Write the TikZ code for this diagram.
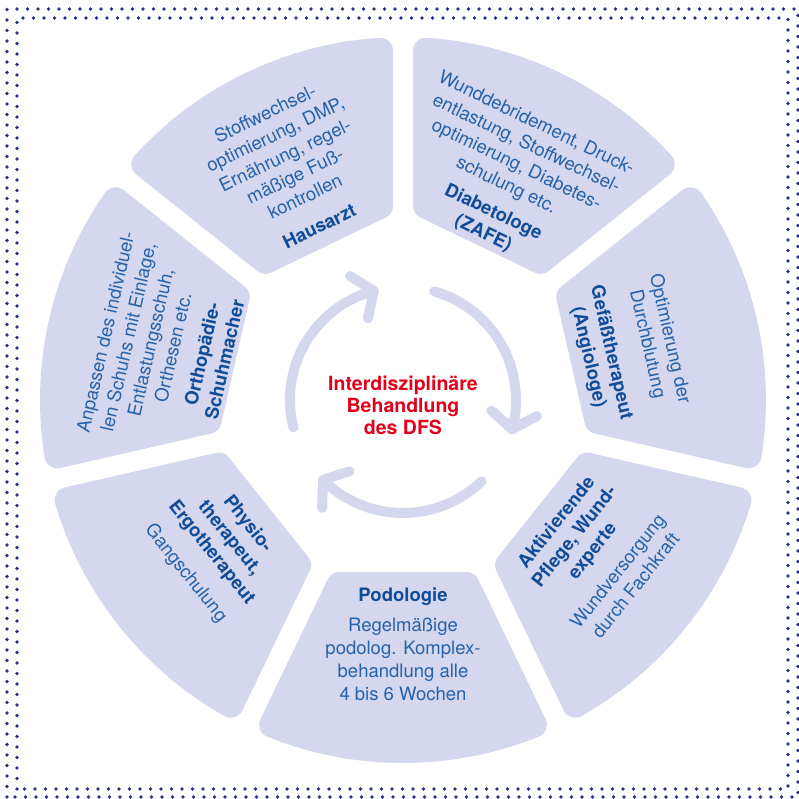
\documentclass[tikz,border=0pt]{standalone}
\usepackage{fontspec}
\setmainfont{TeX Gyre Heros}
\usetikzlibrary{calc}

\definecolor{segfill}{RGB}{212,215,237}
\definecolor{bodyblue}{RGB}{38,98,170}
\definecolor{titleblue}{RGB}{16,76,152}
\definecolor{dfsred}{RGB}{226,0,26}
\definecolor{dotnavy}{RGB}{40,50,135}

\tikzset{
  segment/.style={fill=segfill, draw=segfill, line width=26pt, line join=round},
  cyclearrow/.style={draw=segfill, line width=10pt, line cap=round, line join=round},
  dotframe/.style={draw=dotnavy, line width=3.8pt, line cap=round, dash pattern=on 0pt off 10.5pt},
  segtext/.style={align=center, inner sep=0pt, text=bodyblue, font=\fontsize{18.5}{23}\selectfont},
}
\newcommand{\ttl}[1]{{\bfseries\color{titleblue}#1}}

\begin{document}
\begin{tikzpicture}[x=1pt,y=1pt]
  \useasboundingbox (-403,-398) rectangle (396,400);
  % double row of dots round the picture
  \draw[dotframe] (-396,-397) rectangle (395,391);
  \draw[dotframe] (-386,-389) rectangle (385,382);

  % seven ring pieces, corners rounded by the thick outline
  \foreach \a in {-90,-38.571,12.857,64.286,115.714,167.143,218.571}
    \path[segment, rotate=\a] (185,-63.56) -- (185,63.56) -- (21.946:350)
      arc[start angle=21.946, end angle=-21.946, radius=350] -- cycle;

  % cycle arrows in the middle
  \foreach \a in {150,30,-90}{
    \draw[cyclearrow] (\a+44:113) arc[start angle=\a+44, end angle=\a-45, radius=113];
    \coordinate (tip) at (\a-45:113);
    \draw[cyclearrow] ($(tip)+(\a+108:28)$) -- (tip) -- ($(tip)+(\a-2:28)$);
  }

  \node[font=\bfseries\fontsize{19.5}{22}\selectfont, text=dfsred, align=center] (dfs) at (0,-5)
    {Interdisziplinäre\\Behandlung\\des DFS};

  % texts of the pieces, titles always next to the middle
  \node[segtext, anchor=north] (podologie) at (-90:188)
    {\ttl{Podologie}\\[7pt]Regelmäßige\\podolog. Komplex-\\behandlung alle\\4 bis 6 Wochen};
  \node[segtext, rotate=51.429, anchor=north] (pflege) at (-38.571:188)
    {\ttl{Aktivierende}\\\ttl{Pflege, Wund-}\\\ttl{experte}\\[10pt]Wundversorgung\\durch Fachkraft};
  \node[segtext, rotate=-77.143, anchor=south] (angiologe) at (12.857:181)
    {Optimierung der\\Durchblutung\\[14pt]\ttl{Gefäßtherapeut}\\\ttl{(Angiologe)}};
  \node[segtext, rotate=-25.714, anchor=south] (diabetologe) at (64.286:176)
    {Wunddebridement, Druck-\\entlastung, Stoffwechsel-\\optimierung, Diabetes-\\schulung etc.\\[7pt]\ttl{Diabetologe}\\\ttl{(ZAFE)}};
  \node[segtext, rotate=25.714, anchor=south] (hausarzt) at (115.714:186)
    {Stoffwechsel-\\optimierung, DMP,\\Ernährung, regel-\\mäßige Fuß-\\kontrollen\\[10pt]\ttl{Hausarzt}};
  \node[segtext, rotate=77.143, anchor=south] (schuhmacher) at (167.143:176)
    {Anpassen des individuel-\\len Schuhs mit Einlage,\\Entlastungsschuh,\\Orthesen etc.\\[7pt]\ttl{Orthopädie-}\\\ttl{Schuhmacher}};
  \node[segtext, rotate=-51.429, anchor=north] (physio) at (218.571:190)
    {\ttl{Physio-}\\\ttl{therapeut,}\\\ttl{Ergotherapeut}\\[10pt]Gangschulung};
\end{tikzpicture}
\end{document}
